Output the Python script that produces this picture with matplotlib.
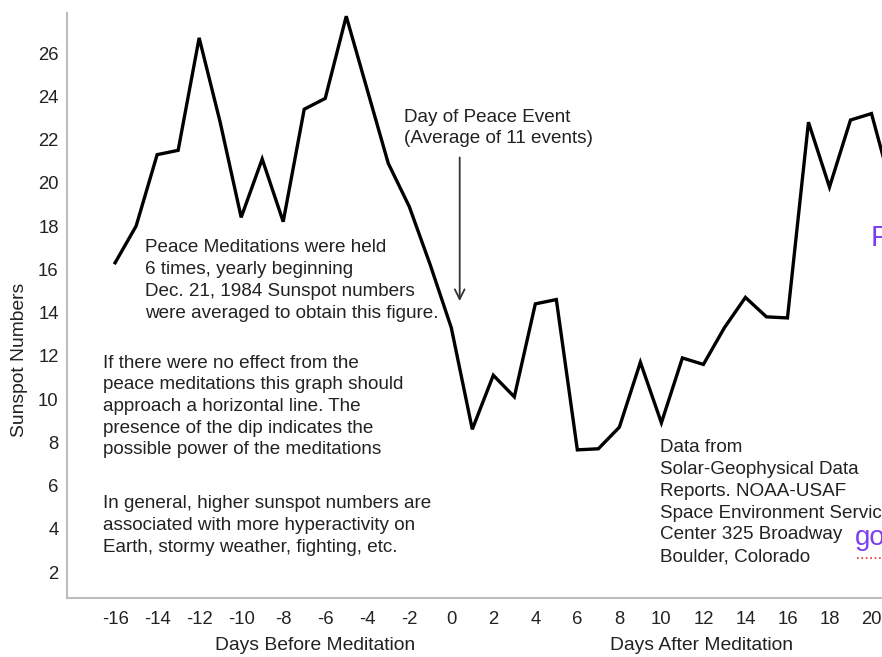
import numpy as np
import matplotlib
matplotlib.use("Agg")
import matplotlib.pyplot as plt
from matplotlib.lines import Line2D

# Average sunspot numbers around the Day of Peace event
days = list(range(-16, 22))
sunspots = [16.3, 18.0, 21.3, 21.5, 26.7, 22.8, 18.4, 21.1, 18.2, 23.4,
            23.9, 27.7, 24.3, 20.9, 18.9, 16.2, 13.3, 8.6, 11.1, 10.1,
            14.4, 14.6, 7.65, 7.7, 8.7, 11.7, 8.9, 11.9, 11.6, 13.3,
            14.7, 13.8, 13.75, 22.8, 19.8, 22.9, 23.2, 19.6]

x_ticks = list(range(-16, 22, 2))
y_ticks = list(range(2, 28, 2))

note_held = ["Peace Meditations were held",
             "6 times, yearly beginning",
             "Dec. 21, 1984 Sunspot numbers",
             "were averaged to obtain this figure."]
note_effect = ["If there were no effect from the",
               "peace meditations this graph should",
               "approach a horizontal line. The",
               "presence of the dip indicates the",
               "possible power of the meditations"]
note_general = ["In general, higher sunspot numbers are",
                "associated with more hyperactivity on",
                "Earth, stormy weather, fighting, etc."]
note_source = ["Data from",
               "Solar-Geophysical Data",
               "Reports. NOAA-USAF",
               "Space Environment Services",
               "Center 325 Broadway",
               "Boulder, Colorado"]
note_event = ["Day of Peace Event", "(Average of 11 events)"]

W, H = 882, 657
plt.rcParams['font.family'] = ['Liberation Sans', 'DejaVu Sans']
plt.rcParams['axes.unicode_minus'] = False
txt = '#222222'
fs = 13.6

fig = plt.figure(figsize=(W / 100, H / 100), dpi=100)
ax = fig.add_axes([67 / W, 59 / H, (W - 67) / W, 585 / H])

ax.plot(days, sunspots, color='black', lw=2.4, solid_joinstyle='miter')
ax.set_xlim(-18.29, 20.5)
ax.set_ylim(0.8, 27.85)
ax.set_xticks(x_ticks)
ax.set_yticks(y_ticks)
ax.tick_params(length=0, labelsize=13.3, colors=txt)
ax.tick_params(axis='x', pad=9)
ax.tick_params(axis='y', pad=6)
for side in ['top', 'right']:
    ax.spines[side].set_visible(False)
for side in ['left', 'bottom']:
    ax.spines[side].set_color('#bdbdbd')
    ax.spines[side].set_linewidth(1.5)


def block(lines, x, y0, step=21.7, size=fs, color=txt):
    for i, s in enumerate(lines):
        fig.text(x / W, 1 - (y0 + i * step) / H, s, fontsize=size,
                 color=color, va='center', ha='left')


block(note_held, 145, 248)
block(note_effect, 103, 363)
block(note_general, 103, 504)
block(note_source, 660, 448)
block(note_event, 404, 117)

ax.annotate('', xy=(0.4, 14.4), xytext=(0.4, 21.3),
            arrowprops=dict(arrowstyle='->,head_length=0.7,head_width=0.35',
                            lw=1.3, color='#333333'))

fig.text(315 / W, 1 - 645 / H, 'Days Before Meditation', fontsize=13.9,
         color=txt, ha='center', va='center')
fig.text(702 / W, 1 - 645 / H, 'Days After Meditation', fontsize=13.9,
         color=txt, ha='center', va='center')
fig.text(20 / W, 1 - 360 / H, 'Sunspot Numbers', fontsize=13.9, color=txt,
         rotation=90, ha='center', va='center')

# stray purple overlay text cut by the right edge
fig.text(871 / W, 1 - 238 / H, 'P', fontsize=21, color='#7b3ff0',
         ha='left', va='center')
fig.text(855 / W, 1 - 538 / H, 'go', fontsize=20, color='#7b3ff0',
         ha='left', va='center')
fig.add_artist(Line2D([857 / W, 1.0], [1 - 558 / H, 1 - 558 / H],
                      color='#e03030', lw=1.2, ls=':'))

fig.savefig('out.png', dpi=100)
